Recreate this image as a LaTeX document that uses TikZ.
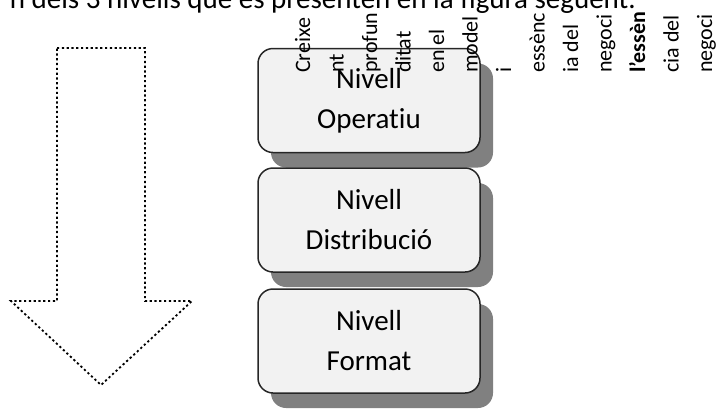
\documentclass[tikz,border=0pt]{standalone}
\usepackage{fontspec}
\setmainfont[Ligatures=NoCommon]{Carlito}
\usetikzlibrary{shadows}
\definecolor{lvl_fill}{RGB}{242, 242, 242}
\definecolor{lvl_shade}{RGB}{128, 128, 128}
\tikzstyle{lvl}=[rectangle,rounded corners=15pt,fill=lvl_fill,draw=black!85,
  line width=1.5pt,minimum width=222pt,minimum height=104pt,align=center,
  font=\fontsize{29}{40}\selectfont,
  drop shadow={shadow xshift=13pt,shadow yshift=-15pt,fill=lvl_shade,opacity=1}]
\tikzstyle{vt}=[rotate=90,anchor=base west,inner sep=0pt,font=\fontsize{22}{26}\selectfont]
\tikzstyle{none}=[]

\begin{document}
\begin{tikzpicture}[x=1pt, y=-1pt]
        \useasboundingbox (0, 0) rectangle (717, 408);
        % arrow
        \draw [line width=1.8pt, dash pattern=on 2.2pt off 2.6pt]
          (57, 48) -- (145, 48) -- (145, 301) -- (192, 301) -- (101, 385)
          -- (11, 301) -- (57, 301) -- cycle;
        \node [style=lvl] (0) at (369, 100.5) {Nivell\\Operatiu};
        \node [style=lvl] (1) at (369, 220) {Nivell\\Distribució};
        \node [style=lvl] (2) at (369, 341) {Nivell\\Format};
        \node [style=none, anchor=base east, inner sep=0pt, font=\fontsize{29}{34}\selectfont] (3) at (636, 8) {n dels 3 nivells que es presenten en la figura següent.};
        \node [style=vt] (4) at (310, 73) {Creixe};
        \node [style=vt] (5) at (343.5, 73) {nt};
        \node [style=vt] (6) at (377, 73) {profun};
        \node [style=vt] (7) at (410.5, 73) {ditat};
        \node [style=vt] (8) at (444, 73) {en el};
        \node [style=vt] (9) at (477.5, 73) {model};
        \node [style=vt] (10) at (511, 73) {i};
        \node [style=vt] (11) at (544.5, 73) {essènc};
        \node [style=vt] (12) at (578, 73) {ia del};
        \node [style=vt] (13) at (611.5, 73) {negoci};
        \node [style=vt, font=\fontsize{22}{26}\selectfont\bfseries] (14) at (645, 73) {l'essèn};
        \node [style=vt] (15) at (678.5, 73) {cia del};
        \node [style=vt] (16) at (712, 73) {negoci};
    \end{tikzpicture}
\end{document}
